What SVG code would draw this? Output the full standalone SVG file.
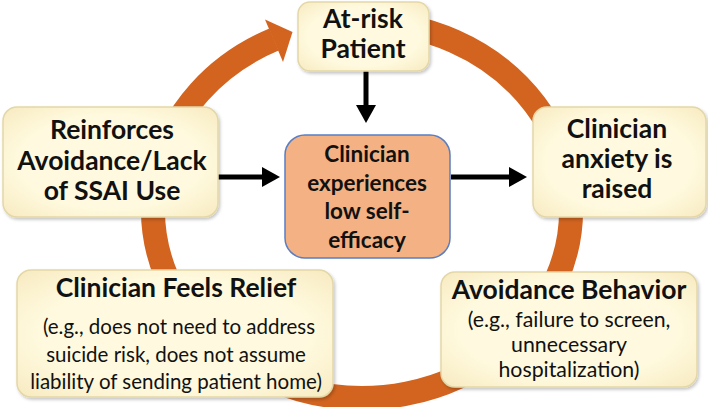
<svg xmlns="http://www.w3.org/2000/svg" width="708" height="407" viewBox="0 0 708 407">
<style>
.box{fill:url(#cream);stroke:#E3D7A8;stroke-width:1.5;filter:url(#sh)}
.core{fill:#F4B183;stroke:#5A7EC2;stroke-width:1.5}
.t{font-family:Lato,"Open Sans","Liberation Sans",sans-serif;font-weight:bold;font-size:26.5px;fill:#111;text-anchor:middle}
.c{font-size:22.5px}
.s{font-family:Lato,"Open Sans","Liberation Sans",sans-serif;font-size:20.5px;fill:#111;text-anchor:middle}
.s2{font-size:21.3px}
.ring{fill:none;stroke:#D2641F;stroke-width:24}
.arr{stroke:#000;stroke-width:5;fill:none;marker-end:url(#ah)}
</style>
<defs>
<radialGradient id="cream" cx="50%" cy="50%" r="70%">
<stop offset="0.6" stop-color="#FFFADF"/>
<stop offset="1" stop-color="#F7EAC0"/>
</radialGradient>
<filter id="sh" x="-10%" y="-10%" width="120%" height="130%">
<feDropShadow dx="1.5" dy="2" stdDeviation="1.5" flood-color="#000" flood-opacity="0.22"/>
</filter>
<marker id="ah" markerUnits="userSpaceOnUse" markerWidth="18" markerHeight="20" refX="0" refY="10" orient="auto">
<path d="M0,0 L18,10 L0,20 z" fill="#000"/>
</marker>
</defs>
<g id="cycle">
<path class="ring" d="M362,22 A209,188 0 1 1 274,39.5"/>
<polygon points="265,19.5 292.5,32 283,62" fill="#D2641F"/>
</g>
<g id="connectors">
<line class="arr" x1="366" y1="71" x2="366" y2="105"/>
<line class="arr" x1="218" y1="177" x2="262" y2="177"/>
<line class="arr" x1="451" y1="177" x2="509" y2="177"/>
</g>
<g id="at-risk">
<rect class="box" x="298" y="2" width="131" height="69" rx="12"/>
<text class="t" x="363" y="28">At-risk</text>
<text class="t" x="363" y="58">Patient</text>
</g>
<g id="reinforces">
<rect class="box" x="3" y="107" width="215" height="110" rx="14"/>
<text class="t" x="112" y="139">Reinforces</text>
<text class="t" x="112" y="170">Avoidance/Lack</text>
<text class="t" x="112" y="200">of SSAI Use</text>
</g>
<g id="anxiety">
<rect class="box" x="533" y="107" width="173" height="110" rx="14"/>
<text class="t" x="617" y="138">Clinician</text>
<text class="t" x="617" y="168">anxiety is</text>
<text class="t" x="617" y="198">raised</text>
</g>
<g id="efficacy">
<rect class="core" x="285" y="135" width="165" height="123" rx="20"/>
<text class="t c" x="367" y="162">Clinician</text>
<text class="t c" x="367" y="190.5">experiences</text>
<text class="t c" x="367" y="219">low self-</text>
<text class="t c" x="367" y="247.5">efficacy</text>
</g>
<g id="relief">
<rect class="box" x="17" y="270" width="316" height="127" rx="14"/>
<text class="t" x="176" y="297">Clinician Feels Relief</text>
<text class="s" x="179" y="334">(e.g., does not need to address</text>
<text class="s" x="176" y="362">suicide risk, does not assume</text>
<text class="s" x="176" y="389">liability of sending patient home)</text>
</g>
<g id="avoidance">
<rect class="box" x="441" y="272" width="256" height="115" rx="14"/>
<text class="t" x="569" y="299">Avoidance Behavior</text>
<text class="s s2" x="569" y="327">(e.g., failure to screen,</text>
<text class="s s2" x="569" y="352">unnecessary</text>
<text class="s s2" x="569" y="377">hospitalization)</text>
</g>
</svg>
